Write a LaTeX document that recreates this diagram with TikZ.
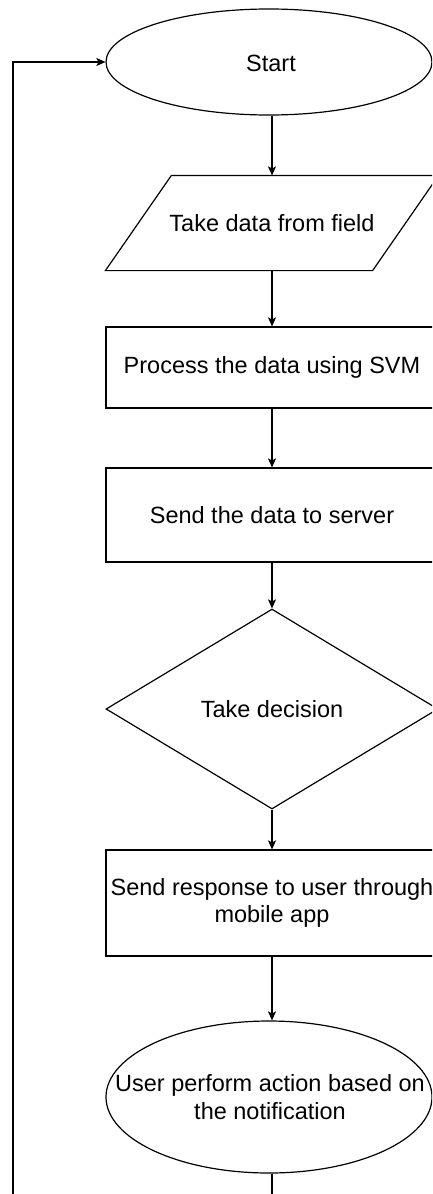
\documentclass[tikz,border=0pt]{standalone}
\usepackage{fontspec}
\setmainfont{Liberation Sans}
\usetikzlibrary{shapes.geometric,arrows.meta}
\begin{document}
\begin{tikzpicture}[x=1pt,y=-1pt,
  line width=1.2pt,
  every node/.style={font=\fontsize{23.5}{27.5}\selectfont, align=center, inner sep=0pt},
  oval/.style={draw, ellipse, minimum width=326pt},
  box/.style={draw, rectangle, minimum width=332pt},
  dia/.style={draw, diamond, minimum width=332pt, minimum height=200pt},
  io/.style={rectangle, minimum width=332pt, minimum height=94pt},
  arr/.style={-{Stealth[length=9pt,width=8pt,inset=2pt]}}]
\useasboundingbox (0,0) rectangle (432,1194);
\clip (0,0) rectangle (432,1194);
\fill[white] (0,0) rectangle (432,1194);

\node[oval, minimum height=106pt] (start) at (269,62) {};
\node (starttxt) at (271,63) {Start};
\node[io] (take) at (272,223) {Take data from field};
\draw ([xshift=66pt]take.north west) -- (take.north east) -- ([xshift=-66pt]take.south east) -- (take.south west) -- cycle;
\node[box, minimum height=81pt] (proc) at (272,367.5) {Process the data using SVM};
\node[box, minimum height=94pt] (send) at (272,515) {Send the data to server};
\node[dia] (dec) at (272,709) {Take decision};
\node[box, minimum height=106pt] (resp) at (272,903) {Send response to user through\\mobile app};
\node[oval, minimum height=152pt] (user) at (269,1097) {};
\node (usertxt) at (270,1097) {User perform action based on\\the notification};

\coordinate (loop) at (13,1215);

\draw[arr] (start.south -| take.north) -- (take.north);
\draw[arr] (take.south) -- (proc.north);
\draw[arr] (proc.south) -- (send.north);
\draw[arr] (send.south) -- (dec.north);
\draw[arr] (dec.south) -- (resp.north);
\draw[arr] (resp.south) -- (user.north -| resp.south);
\draw[arr] (user.south -| resp.south) |- (loop) |- (start.west);
\end{tikzpicture}
\end{document}
